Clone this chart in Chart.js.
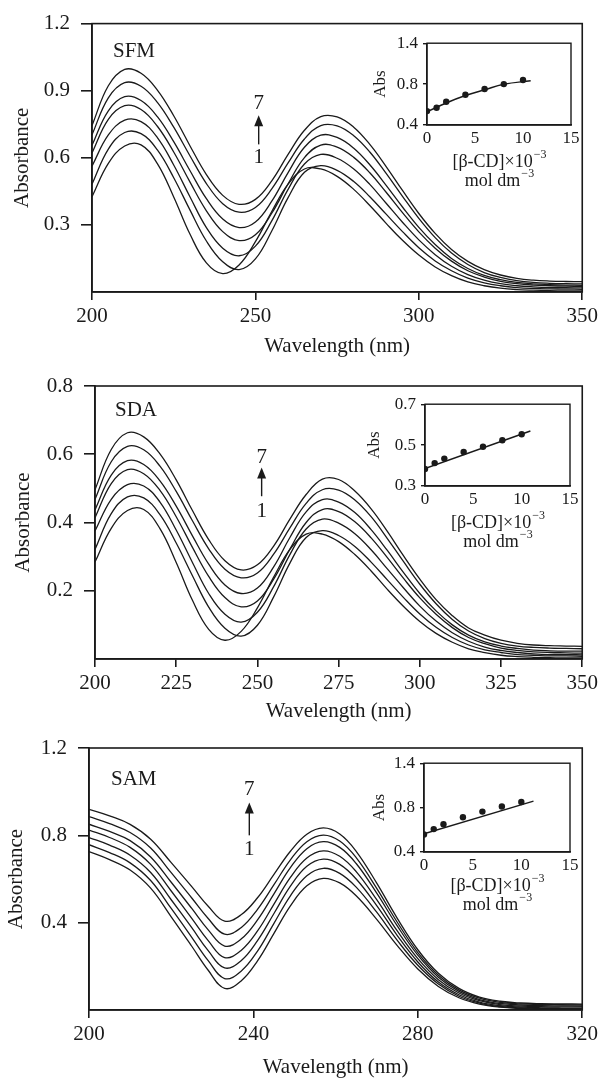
<!DOCTYPE html>
<html>
<head>
<meta charset="utf-8">
<script src="https://cdn.jsdelivr.net/npm/chart.js@4.4.1/dist/chart.umd.min.js"></script>
<style>
  body { margin: 0; background: #fff; }
  #wrap { position: relative; width: 602px; height: 1080px; }
  canvas { position: absolute; }
</style>
</head>
<body>
<div id="wrap">
  <canvas id="p1"></canvas>
  <canvas id="p2"></canvas>
  <canvas id="p3"></canvas>
  <canvas id="i1"></canvas>
  <canvas id="i2"></canvas>
  <canvas id="i3"></canvas>
</div>
<script>
// ---- SFM spectra (curves 1..7) ----
var wlSFM = [200,205,210,215,220,225,230,235,240,245,250,255,260,265,270,275,280,285,290,295,300,305,310,315,320,325,330,335,340,345,350];
var sfm1 = [.426,.575,.653,.658,.574,.425,.258,.130,.082,.121,.225,.360,.482,.550,.550,.517,.460,.387,.307,.231,.165,.112,.073,.045,.028,.017,.011,.008,.006,.005,.005];
var sfm2 = [.482,.639,.713,.708,.635,.511,.366,.228,.135,.100,.148,.273,.422,.535,.565,.544,.495,.426,.348,.270,.198,.139,.095,.062,.041,.028,.020,.016,.014,.013,.012];
var sfm3 = [.563,.702,.768,.762,.690,.568,.425,.288,.196,.162,.205,.318,.459,.572,.615,.598,.551,.481,.397,.312,.233,.167,.115,.078,.053,.037,.028,.023,.020,.019,.018];
var sfm4 = [.622,.772,.833,.816,.741,.626,.491,.363,.270,.230,.256,.352,.484,.601,.657,.648,.603,.533,.446,.355,.269,.196,.138,.095,.067,.048,.037,.031,.028,.026,.025];
var sfm5 = [.656,.810,.873,.856,.784,.672,.542,.417,.326,.288,.313,.406,.534,.647,.701,.691,.644,.569,.477,.380,.289,.212,.150,.105,.074,.055,.043,.036,.033,.031,.030];
var sfm6 = [.703,.868,.936,.920,.848,.737,.608,.485,.395,.357,.378,.461,.577,.684,.744,.743,.700,.626,.530,.428,.329,.243,.174,.123,.087,.065,.051,.043,.039,.037,.036];
var sfm7 = [.744,.922,.995,.978,.903,.788,.653,.525,.432,.392,.414,.497,.615,.723,.784,.783,.738,.660,.561,.454,.351,.262,.190,.137,.100,.076,.061,.053,.049,.047,.046];

// ---- SDA spectra ----
var wlSDA = [200,205,210,215,220,225,230,235,240,245,250,255,260,265,270,275,280,285,290,295,300,305,310,315,320,325,330,335,340,345,350];
var sda1 = [.284,.383,.435,.438,.382,.283,.172,.087,.055,.081,.150,.240,.321,.366,.366,.344,.306,.258,.204,.154,.110,.075,.049,.030,.019,.011,.007,.005,.004,.003,.003];
var sda2 = [.321,.426,.475,.472,.423,.340,.244,.152,.090,.067,.099,.182,.281,.356,.376,.362,.330,.284,.232,.180,.132,.093,.063,.041,.027,.019,.013,.011,.009,.009,.008];
var sda3 = [.375,.468,.511,.507,.460,.378,.283,.192,.131,.108,.137,.212,.306,.381,.410,.398,.367,.320,.264,.208,.155,.111,.077,.052,.035,.025,.019,.015,.013,.013,.012];
var sda4 = [.414,.514,.555,.543,.494,.417,.327,.242,.180,.153,.170,.234,.322,.400,.438,.432,.402,.355,.297,.236,.179,.131,.092,.063,.045,.032,.025,.021,.019,.018,.017];
var sda5 = [.437,.539,.581,.570,.522,.448,.361,.278,.217,.192,.208,.270,.356,.431,.467,.460,.429,.379,.318,.253,.192,.141,.100,.070,.050,.038,.031,.026,.024,.023,.023];
var sda6 = [.468,.578,.623,.613,.565,.491,.405,.323,.263,.238,.252,.307,.384,.456,.496,.495,.466,.417,.353,.285,.219,.162,.116,.082,.060,.046,.038,.034,.032,.031,.030];
var sda7 = [.496,.614,.663,.651,.601,.525,.435,.350,.288,.261,.276,.331,.410,.482,.527,.526,.492,.440,.374,.302,.234,.174,.127,.091,.070,.055,.046,.041,.039,.038,.037];

// ---- SAM spectra ----
var wlSAM = [200,205,210,215,220,225,229,233,237,241,245,249,253,257,261,265,270,275,280,285,290,295,300,305,310,315,320];
var sam1 = [.726,.689,.641,.558,.427,.292,.182,.099,.133,.225,.351,.477,.569,.603,.582,.523,.415,.295,.188,.108,.056,.027,.013,.007,.004,.003,.003];
var sam2 = [.757,.721,.674,.593,.465,.333,.226,.144,.178,.270,.397,.523,.615,.649,.626,.563,.448,.319,.205,.119,.063,.032,.016,.010,.007,.006,.006];
var sam3 = [.790,.755,.709,.630,.505,.377,.272,.193,.226,.318,.442,.567,.658,.691,.667,.600,.478,.341,.220,.128,.070,.036,.020,.013,.010,.009,.009];
var sam4 = [.824,.790,.745,.667,.545,.420,.318,.240,.273,.362,.485,.607,.696,.729,.704,.634,.505,.362,.235,.139,.078,.043,.025,.018,.015,.014,.014];
var sam5 = [.851,.818,.776,.701,.585,.465,.367,.293,.325,.413,.532,.652,.739,.771,.745,.671,.535,.385,.251,.150,.085,.048,.030,.023,.020,.019,.018];
var sam6 = [.886,.854,.813,.742,.629,.513,.419,.347,.377,.461,.574,.688,.771,.801,.774,.698,.557,.402,.263,.159,.092,.054,.035,.028,.025,.024,.023];
var sam7 = [.919,.889,.850,.782,.675,.565,.475,.407,.436,.514,.621,.727,.805,.834,.806,.727,.581,.420,.276,.168,.099,.059,.040,.032,.029,.028,.027];

// ---- tick values ----
var xTicksSFM = [200,250,300,350];
var yTicksSFM = [0.3,0.6,0.9,1.2];
var xTicksSDA = [200,225,250,275,300,325,350];
var yTicksSDA = [0.2,0.4,0.6,0.8];
var xTicksSAM = [200,240,280,320];
var yTicksSAM = [0.4,0.8,1.2];

// ---- insets: Abs vs [b-CD] ----
var conc = [0,1,2,4,6,8,10];
var absSFM = [.57,.61,.685,.77,.84,.90,.95];
var fitSFMx = [0,2,4,6,8,10.8];
var fitSFMy = [.562,.669,.76,.831,.898,.941];
var absSDA = [.383,.412,.434,.466,.492,.524,.553];
var fitSDAx = [0,10.9];
var fitSDAy = [.385,.569];
var absSAM = [.597,.658,.712,.791,.855,.913,.963];
var fitSAMx = [0,11.25];
var fitSAMy = [.604,.973];
var insetXTicks = [0,5,10,15];
var insetYTicksA = [0.4,0.65,0.9,1.15,1.4];
var insetYLabelsA = ['0.4','','0.8','','1.4'];
var insetYTicksB = [0.3,0.4,0.5,0.6,0.7];
var insetYLabelsB = ['0.3','','0.5','','0.7'];

var INK = '#1a1a1a';
var SERIF = '"Liberation Serif", "Times New Roman", serif';
Chart.defaults.font.family = SERIF;
Chart.defaults.color = INK;

function pts(xs, ys) {
  return xs.map(function(x, i) { return {x: x, y: ys[i]}; });
}

var panelDecor = {
  id: 'panelDecor',
  afterDraw: function(chart, args, o) {
    var ctx = chart.ctx, a = chart.chartArea, xs = chart.scales.x, ys = chart.scales.y;
    ctx.save();
    ctx.strokeStyle = INK; ctx.fillStyle = INK; ctx.lineWidth = 1.6;
    ctx.strokeRect(a.left, a.top, a.right - a.left, a.bottom - a.top);
    ctx.font = '21px ' + SERIF;
    ctx.textBaseline = 'middle'; ctx.textAlign = 'left';
    ctx.fillText(o.name, a.left + o.nameDx, ys.getPixelForValue(o.nameY));
    var ax = xs.getPixelForValue(o.arrowX);
    var tip = ys.getPixelForValue(o.arrowTip), base = ys.getPixelForValue(o.arrowBase);
    ctx.lineWidth = 1.4;
    ctx.beginPath(); ctx.moveTo(ax, base); ctx.lineTo(ax, tip + 6); ctx.stroke();
    ctx.beginPath(); ctx.moveTo(ax, tip); ctx.lineTo(ax - 4.5, tip + 11); ctx.lineTo(ax + 4.5, tip + 11); ctx.closePath(); ctx.fill();
    ctx.textAlign = 'center';
    ctx.fillText('7', ax, ys.getPixelForValue(o.sevenY));
    ctx.fillText('1', ax, ys.getPixelForValue(o.oneY));
    ctx.restore();
  }
};

function makePanel(id, top, height, left, plotTop, plotBottom, wl, curves, xTicks, yTicks, yMax, titlePad, yTitlePad, decor) {
  var cv = document.getElementById(id);
  cv.width = 602; cv.height = height;
  cv.style.left = '0px'; cv.style.top = top + 'px';
  new Chart(cv, {
    type: 'line',
    data: {
      datasets: curves.map(function(c) {
        return { data: pts(wl, c), borderColor: INK, borderWidth: 1.3, pointRadius: 0, tension: 0.4, fill: false };
      })
    },
    options: {
      responsive: false, animation: false, events: [],
      layout: { padding: { top: plotTop, right: 19, left: 0, bottom: 0 } },
      plugins: { legend: { display: false }, tooltip: { enabled: false }, panelDecor: decor },
      scales: {
        x: {
          type: 'linear', min: wl[0], max: wl[wl.length - 1],
          afterBuildTicks: function(s) { s.ticks = xTicks.map(function(v) { return {value: v}; }); },
          afterFit: function(s) { s.height = height - plotBottom; },
          ticks: { font: { size: 21 }, padding: 4, maxRotation: 0, callback: function(v) { return String(v); } },
          grid: { drawOnChartArea: false, tickLength: 8, color: INK, lineWidth: 1.6 },
          border: { color: INK, width: 1.6 },
          title: { display: true, text: 'Wavelength (nm)', font: { size: 21 }, padding: { top: 0, bottom: titlePad } }
        },
        y: {
          type: 'linear', min: 0, max: yMax,
          afterBuildTicks: function(s) { s.ticks = yTicks.map(function(v) { return {value: v}; }); },
          afterFit: function(s) { s.width = left; },
          ticks: { font: { size: 21 }, padding: 11, callback: function(v) { return v.toFixed(1); } },
          grid: { drawOnChartArea: false, tickLength: 11, color: INK, lineWidth: 1.6 },
          border: { color: INK, width: 1.6 },
          title: { display: true, text: 'Absorbance', font: { size: 21 }, padding: { top: yTitlePad, bottom: 0 } }
        }
      }
    },
    plugins: [panelDecor]
  });
}

function supText(ctx, base, sup, cx, cy, size) {
  ctx.font = size + 'px ' + SERIF;
  var w1 = ctx.measureText(base).width;
  ctx.font = Math.round(size * 0.68) + 'px ' + SERIF;
  var w2 = ctx.measureText(sup).width;
  var x = cx - (w1 + w2) / 2;
  ctx.textAlign = 'left'; ctx.textBaseline = 'middle';
  ctx.font = size + 'px ' + SERIF;
  ctx.fillText(base, x, cy);
  ctx.font = Math.round(size * 0.68) + 'px ' + SERIF;
  ctx.fillText(sup, x + w1 + 1, cy - size * 0.42);
}

var insetDecor = {
  id: 'insetDecor',
  afterDraw: function(chart, args, o) {
    var ctx = chart.ctx, a = chart.chartArea;
    ctx.save();
    ctx.strokeStyle = INK; ctx.fillStyle = INK; ctx.lineWidth = 1.4;
    ctx.strokeRect(a.left, a.top, a.right - a.left, a.bottom - a.top);
    var cx = (a.left + a.right) / 2;
    supText(ctx, '[\u03B2-CD]\u00D710', '\u22123', cx, a.bottom + o.line1, 18);
    supText(ctx, 'mol dm', '\u22123', cx, a.bottom + o.line2, 18);
    ctx.translate(a.left - o.absDx, (a.top + a.bottom) / 2);
    ctx.rotate(-Math.PI / 2);
    ctx.font = '17px ' + SERIF; ctx.textAlign = 'center'; ctx.textBaseline = 'middle';
    ctx.fillText('Abs', 0, 0);
    ctx.restore();
  }
};

function makeInset(id, box, plot, ys, fx, fy, yTicks, yLabels, tension, decor) {
  var cv = document.getElementById(id);
  cv.width = box.w; cv.height = box.h;
  cv.style.left = box.x + 'px'; cv.style.top = box.y + 'px';
  new Chart(cv, {
    type: 'line',
    data: {
      datasets: [
        { data: pts(conc, ys), showLine: false, pointRadius: 3.2, pointBackgroundColor: INK, pointBorderWidth: 0 },
        { data: pts(fx, fy), borderColor: INK, borderWidth: 1.5, pointRadius: 0, tension: tension, fill: false }
      ]
    },
    options: {
      responsive: false, animation: false, events: [],
      layout: { padding: { top: plot.top - box.y, right: box.x + box.w - plot.right, left: 0, bottom: 0 } },
      plugins: { legend: { display: false }, tooltip: { enabled: false }, insetDecor: decor },
      scales: {
        x: {
          type: 'linear', min: 0, max: 15,
          afterBuildTicks: function(s) { s.ticks = insetXTicks.map(function(v) { return {value: v}; }); },
          afterFit: function(s) { s.height = box.y + box.h - plot.bottom; },
          ticks: { font: { size: 17 }, padding: 3, maxRotation: 0 },
          grid: { drawOnChartArea: false, drawTicks: false, tickLength: 0 },
          border: { color: INK, width: 1.4 }
        },
        y: {
          type: 'linear', min: yTicks[0], max: yTicks[yTicks.length - 1],
          afterBuildTicks: function(s) { s.ticks = yTicks.map(function(v) { return {value: v}; }); },
          afterFit: function(s) { s.width = plot.left - box.x; },
          ticks: { font: { size: 17 }, padding: 5, callback: function(v, i) { return yLabels[i]; } },
          grid: { drawOnChartArea: false, tickLength: 4, color: INK, lineWidth: 1.4 },
          border: { color: INK, width: 1.4 }
        }
      }
    },
    plugins: [insetDecor]
  });
}

makePanel('p1', 0, 362, 92, 21, 292, wlSFM, [sfm1, sfm2, sfm3, sfm4, sfm5, sfm6, sfm7], xTicksSFM, yTicksSFM, 1.2, 3, 10,
  { name: 'SFM', nameDx: 21, nameY: 1.074, arrowX: 251, arrowTip: 0.79, arrowBase: 0.66, sevenY: 0.845, oneY: 0.60 });
makePanel('p2', 362, 362, 95, 24, 297, wlSDA, [sda1, sda2, sda3, sda4, sda5, sda6, sda7], xTicksSDA, yTicksSDA, 0.8, 0, 11,
  { name: 'SDA', nameDx: 20, nameY: 0.728, arrowX: 251.3, arrowTip: 0.561, arrowBase: 0.477, sevenY: 0.59, oneY: 0.433 });
makePanel('p3', 724, 356, 89, 24, 286, wlSAM, [sam1, sam2, sam3, sam4, sam5, sam6, sam7], xTicksSAM, yTicksSAM, 1.2, 0, 4,
  { name: 'SAM', nameDx: 22, nameY: 1.056, arrowX: 239, arrowTip: 0.95, arrowBase: 0.80, sevenY: 1.01, oneY: 0.737 });

makeInset('i1', {x: 360, y: 28, w: 235, h: 170}, {left: 427, right: 571, top: 40, bottom: 125},
  absSFM, fitSFMx, fitSFMy, insetYTicksA, insetYLabelsA, 0.4, { line1: 37, line2: 56, absDx: 46 });
makeInset('i2', {x: 360, y: 389, w: 235, h: 173}, {left: 425, right: 570, top: 401, bottom: 486},
  absSDA, fitSDAx, fitSDAy, insetYTicksB, insetYLabelsB, 0, { line1: 37, line2: 56, absDx: 50 });
makeInset('i3', {x: 360, y: 748, w: 235, h: 172}, {left: 424, right: 570, top: 760, bottom: 852},
  absSAM, fitSAMx, fitSAMy, insetYTicksA, insetYLabelsA, 0, { line1: 34, line2: 53, absDx: 44 });
</script>
</body>
</html>
